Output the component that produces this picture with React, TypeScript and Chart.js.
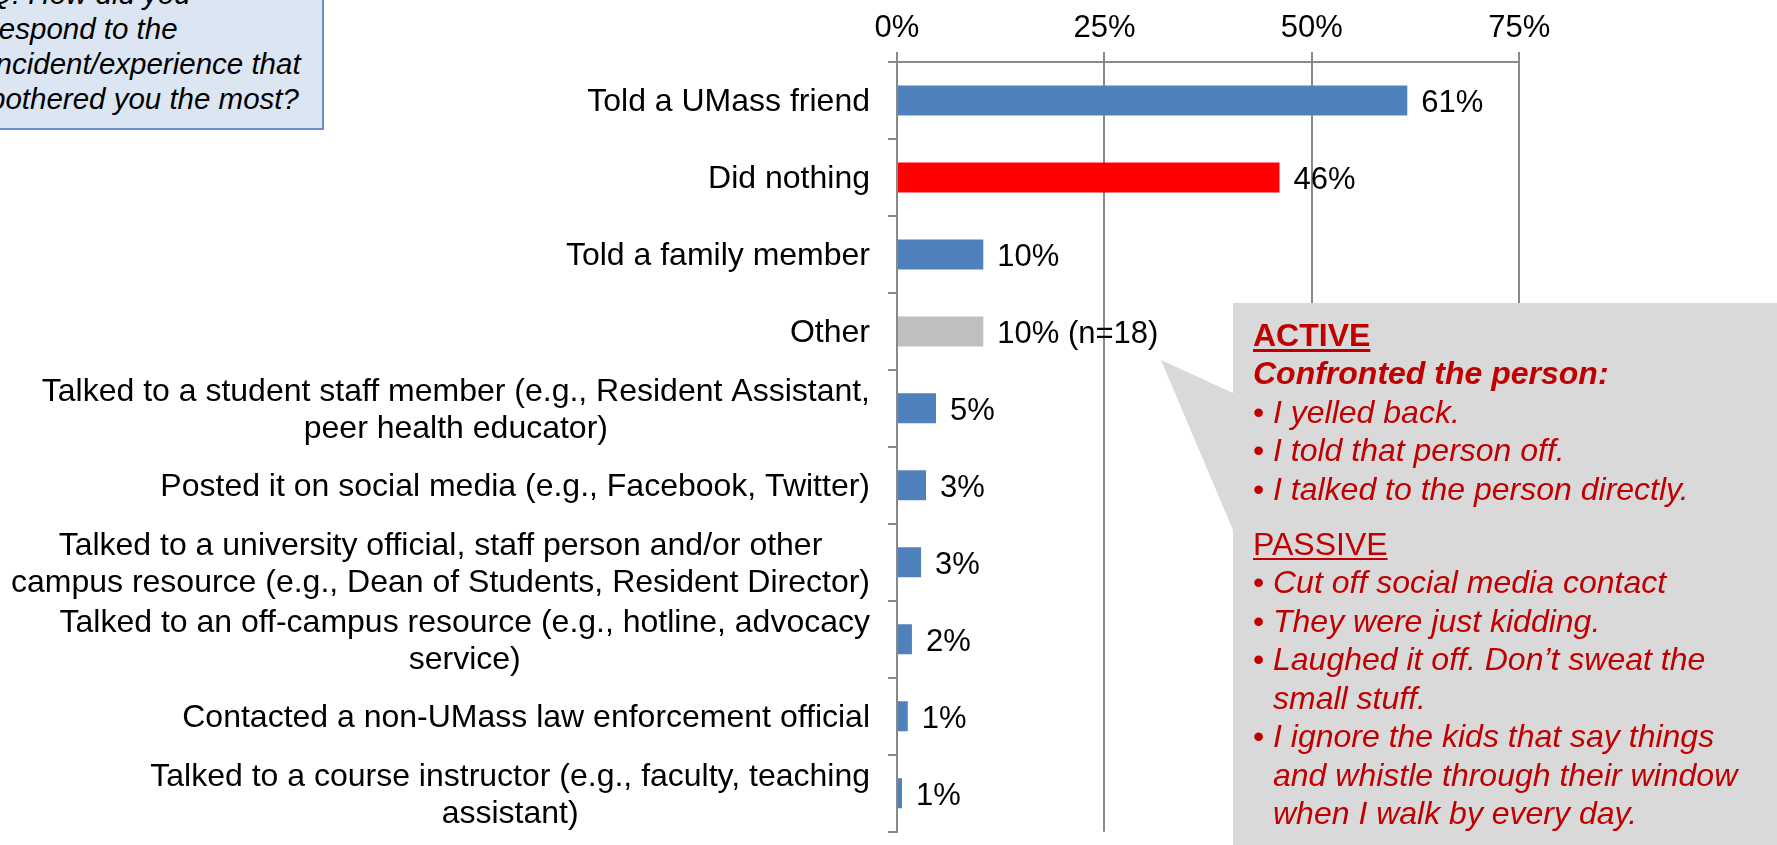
import React, { useEffect, useRef } from "react";
import { Chart, registerables } from "chart.js";

Chart.register(...registerables);

const categories: string[][] = [
  ["Told a UMass friend"],
  ["Did nothing"],
  ["Told a family member"],
  ["Other"],
  ["Talked to a student staff member (e.g., Resident Assistant,", "peer health educator)"],
  ["Posted it on social media (e.g., Facebook, Twitter)"],
  ["Talked to a university official, staff person and/or other", "campus resource (e.g., Dean of Students, Resident Director)"],
  ["Talked to an off-campus resource (e.g., hotline, advocacy", "service)"],
  ["Contacted a non-UMass law enforcement official"],
  ["Talked to a course instructor (e.g., faculty, teaching", "assistant)"],
];
const values: number[] = [61.5, 46.1, 10.4, 10.4, 4.7, 3.5, 2.9, 1.8, 1.3, 0.6];
const valueLabels: string[] = ["61%", "46%", "10%", "10% (n=18)", "5%", "3%", "3%", "2%", "1%", "1%"];
const barColors: string[] = ["#4F81BD", "#FF0000", "#4F81BD", "#BFBFBF", "#4F81BD", "#4F81BD", "#4F81BD", "#4F81BD", "#4F81BD", "#4F81BD"];
const xTickValues: number[] = [0, 25, 50, 75];
const xTickLabels: string[] = ["0%", "25%", "50%", "75%"];

const questionLines: string[] = ["Q: How did you", "respond to the", "incident/experience that", "bothered you the most?"];
const activeItems: string[] = ["I yelled back.", "I told that person off.", "I talked to the person directly."];
const passiveItems: string[][] = [
  ["Cut off social media contact"],
  ["They were just kidding."],
  ["Laughed it off. Don\u2019t sweat the", "small stuff."],
  ["I ignore the kids that say things", "and whistle through their window", "when I walk by every day."],
];

const FONT = "'Liberation Sans', Arial, sans-serif";
const RED = "#C00000";

const labelPlugin = {
  id: "customLabels",
  afterDraw(chart: any) {
    const ctx = chart.ctx;
    const yScale = chart.scales.y;
    const meta = chart.getDatasetMeta(0);
    ctx.save();
    ctx.fillStyle = "#000";
    // category labels
    ctx.font = `32px ${FONT}`;
    ctx.textBaseline = "middle";
    ctx.textAlign = "center";
    const right = chart.chartArea.left - 27;
    const lh = 37;
    categories.forEach((lines, i) => {
      const cy = yScale.getPixelForValue(i) + 2;
      const maxW = Math.max(...lines.map((l) => ctx.measureText(l).width));
      const cx = right - maxW / 2;
      lines.forEach((l, k) => {
        ctx.fillText(l, cx, cy + (k - (lines.length - 1) / 2) * lh);
      });
    });
    // value labels
    ctx.font = `31px ${FONT}`;
    ctx.textAlign = "left";
    meta.data.forEach((bar: any, i: number) => {
      ctx.fillText(valueLabels[i], bar.x + 14, bar.y + 3);
    });
    ctx.restore();
  },
};

function ChartCanvas() {
  const ref = useRef<HTMLCanvasElement | null>(null);
  useEffect(() => {
    if (!ref.current) return;
    const chart = new Chart(ref.current, {
      type: "bar",
      data: {
        labels: categories.map((c) => c.join(" ")),
        datasets: [
          {
            data: values,
            backgroundColor: barColors,
            borderWidth: 0,
            categoryPercentage: 1,
            barPercentage: 0.39,
          },
        ],
      },
      options: {
        indexAxis: "y",
        responsive: false,
        animation: false,
        devicePixelRatio: 1,
        layout: { padding: { left: 0, top: 0, right: 257.7, bottom: 13.3 } },
        plugins: { legend: { display: false }, tooltip: { enabled: false } },
        scales: {
          x: {
            position: "top",
            min: 0,
            max: 75,
            afterBuildTicks: (s: any) => {
              s.ticks = xTickValues.map((v) => ({ value: v }));
            },
            ticks: {
              font: { size: 31, family: FONT },
              color: "#000",
              padding: 5,
              callback: (_v: any, idx: number) => xTickLabels[idx],
            },
            grid: { color: "#898989", lineWidth: 2, tickLength: 10, drawTicks: true },
            border: { display: true, color: "#898989", width: 2 },
            afterFit: (s: any) => {
              s.height = 62;
            },
          },
          y: {
            grid: { drawOnChartArea: false, drawTicks: true, tickLength: 9, color: "#898989", lineWidth: 2, offset: true },
            border: { display: true, color: "#898989", width: 2 },
            ticks: { display: false },
            afterFit: (s: any) => {
              s.width = 897;
            },
          },
        },
      } as any,
      plugins: [labelPlugin],
    });
    return () => chart.destroy();
  }, []);
  return <canvas ref={ref} width={1777} height={845} style={{ position: "absolute", left: 0, top: 0 }} />;
}

export default function App() {
  const baseText: React.CSSProperties = { fontFamily: FONT, color: RED, fontSize: 32, lineHeight: "38.5px", whiteSpace: "nowrap" };
  const bulletRow = (lines: string[], key: string) => (
    <div key={key} style={{ display: "flex", fontStyle: "italic" }}>
      <span style={{ width: 20, flex: "0 0 20px", fontStyle: "normal" }}>{"\u2022"}</span>
      <span>
        {lines.map((l, i) => (
          <div key={i}>{l}</div>
        ))}
      </span>
    </div>
  );
  return (
    <div style={{ position: "absolute", left: 0, top: 0, width: 1777, height: 845, overflow: "hidden", background: "#fff" }}>
      <ChartCanvas />
      {/* question box */}
      <div
        style={{
          position: "absolute",
          left: -20,
          top: -20,
          width: 340,
          height: 146,
          background: "#DCE6F2",
          border: "2px solid #6A8EC6",
        }}
      />
      <div
        style={{
          position: "absolute",
          left: -11,
          top: -24.2,
          fontFamily: FONT,
          fontStyle: "italic",
          fontSize: 29.5,
          lineHeight: "35px",
          color: "#000",
          whiteSpace: "nowrap",
        }}
      >
        {questionLines.map((l, i) => (
          <div key={i}>{l}</div>
        ))}
      </div>
      {/* callout */}
      <svg width={1777} height={845} style={{ position: "absolute", left: 0, top: 0 }}>
        <polygon points="1233,303 1777,303 1777,845 1233,845 1233,530 1161,360 1233,393" fill="#D9D9D9" />
      </svg>
      <div style={{ ...baseText, position: "absolute", left: 1253, top: 315.5 }}>
        <div style={{ fontWeight: "bold", textDecoration: "underline", textDecorationThickness: 3, textUnderlineOffset: 3 }}>ACTIVE</div>
        <div style={{ fontWeight: "bold", fontStyle: "italic" }}>Confronted the person:</div>
        {activeItems.map((t, i) => bulletRow([t], "a" + i))}
        <div style={{ marginTop: 16.5, textDecoration: "underline", textDecorationThickness: 2, textUnderlineOffset: 3 }}>PASSIVE</div>
        {passiveItems.map((t, i) => bulletRow(t, "p" + i))}
      </div>
    </div>
  );
}
